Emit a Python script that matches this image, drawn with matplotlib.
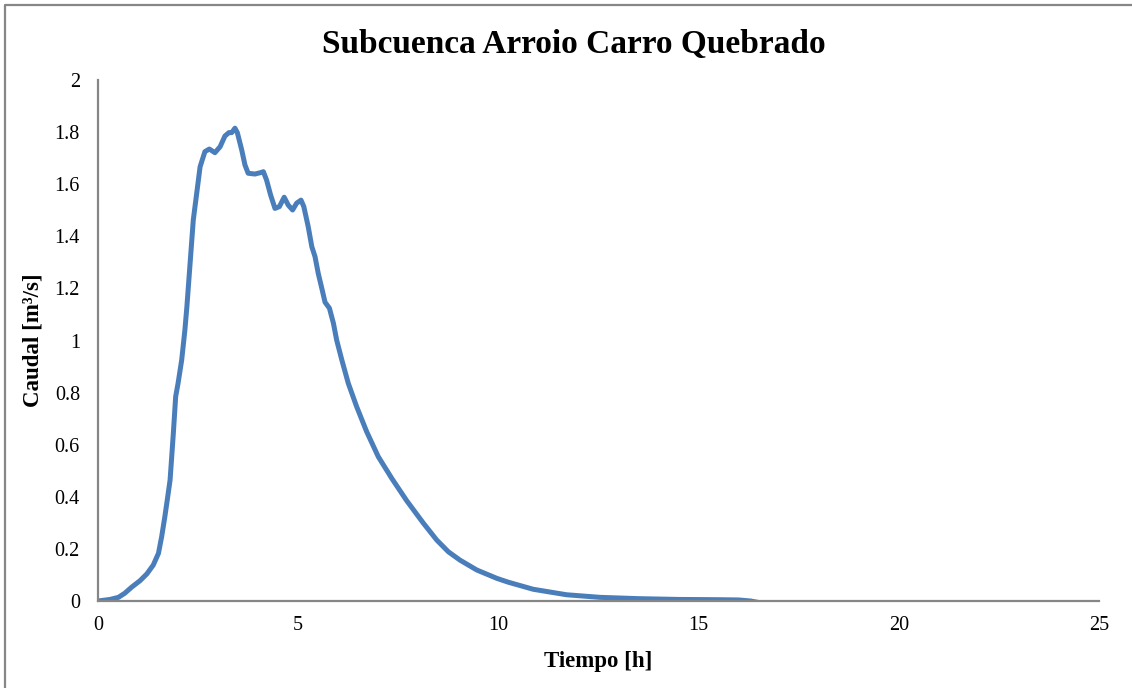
import matplotlib
matplotlib.use("Agg")
import matplotlib.pyplot as plt
from matplotlib.lines import Line2D

# hydrograph: time [h], discharge [m3/s]
tiempo = [0, 0.3, 0.51, 0.67, 0.84, 1.05, 1.22, 1.38, 1.51, 1.59, 1.67, 1.73,
          1.8, 1.88, 1.94, 2.0, 2.09, 2.17, 2.22, 2.38, 2.55, 2.67, 2.78, 2.92,
          3.05, 3.17, 3.27, 3.34, 3.42, 3.48, 3.59, 3.67, 3.75, 3.92, 4.05,
          4.13, 4.21, 4.31, 4.42, 4.53, 4.65, 4.75, 4.86, 4.96, 5.07, 5.14,
          5.25, 5.34, 5.42, 5.50, 5.59, 5.67, 5.78, 5.88, 5.96, 6.09, 6.25,
          6.46, 6.71, 7.0, 7.34, 7.71, 8.12, 8.46, 8.75, 9.04, 9.46, 9.96,
          10.25, 10.87, 11.7, 12.54, 13.5, 14.5, 15.5, 16.0, 16.3, 16.65]
caudal = [0, 0.006, 0.014, 0.03, 0.053, 0.078, 0.104, 0.138, 0.183, 0.247,
          0.324, 0.388, 0.464, 0.64, 0.785, 0.836, 0.925, 1.04, 1.13, 1.463,
          1.667, 1.725, 1.735, 1.721, 1.744, 1.785, 1.798, 1.798, 1.815, 1.798,
          1.731, 1.674, 1.642, 1.639, 1.644, 1.648, 1.616, 1.559, 1.507, 1.514,
          1.55, 1.52, 1.501, 1.527, 1.539, 1.514, 1.437, 1.36, 1.322, 1.258,
          1.2, 1.147, 1.124, 1.066, 1.002, 0.925, 0.836, 0.746, 0.65, 0.554,
          0.47, 0.385, 0.3, 0.234, 0.189, 0.157, 0.119, 0.087, 0.072, 0.045,
          0.024, 0.014, 0.009, 0.006, 0.005, 0.004, 0.0, -0.01]

xticks = [0, 5, 10, 15, 20, 25]
yticks = [0, 0.2, 0.4, 0.6, 0.8, 1, 1.2, 1.4, 1.6, 1.8, 2]
yticklabels = ["0", "0.2", "0.4", "0.6", "0.8", "1", "1.2", "1.4", "1.6", "1.8", "2"]

W, H = 1132, 688
fig = plt.figure(figsize=(W / 100, H / 100), dpi=100)
ax = fig.add_axes([98 / W, 1 - 601 / H, (1099 - 98) / W, (601 - 80) / H])

serif = ["Liberation Serif", "DejaVu Serif"]
gray = "#868686"

ax.plot(tiempo, caudal, color="#4a7ebb", lw=3.6, solid_joinstyle="round",
        solid_capstyle="round")

ax.set_xlim(0, 25)
ax.set_ylim(0, 2)
ax.set_xticks(xticks)
ax.set_yticks(yticks)
ax.set_yticklabels(yticklabels)
for lbl in ax.get_xticklabels() + ax.get_yticklabels():
    lbl.set_family(serif)
    lbl.set_fontsize(14.5)
ax.tick_params(axis="both", length=0)
ax.tick_params(axis="y", pad=13)
ax.tick_params(axis="x", pad=11)

for side in ["top", "right"]:
    ax.spines[side].set_visible(False)
for side in ["left", "bottom"]:
    ax.spines[side].set_color(gray)
    ax.spines[side].set_linewidth(1.6)

ax.set_xlabel("Tiempo [h]", family=serif, fontsize=16.5, fontweight="bold",
              labelpad=11)
ax.set_ylabel("Caudal [m³/s]", family=serif, fontsize=16.5, fontweight="bold",
              labelpad=8)
fig.text(574 / W, 1 - 45 / H, "Subcuenca Arroio Carro Quebrado", family=serif,
         fontsize=24, fontweight="bold", ha="center", va="center")

# outer chart border (top and left edges)
fig.add_artist(Line2D([5 / W, 5 / W, 1.0], [0.0, 1 - 5 / H, 1 - 5 / H],
                      transform=fig.transFigure, color=gray, lw=1.6))

fig.savefig("out.png", dpi=100)
